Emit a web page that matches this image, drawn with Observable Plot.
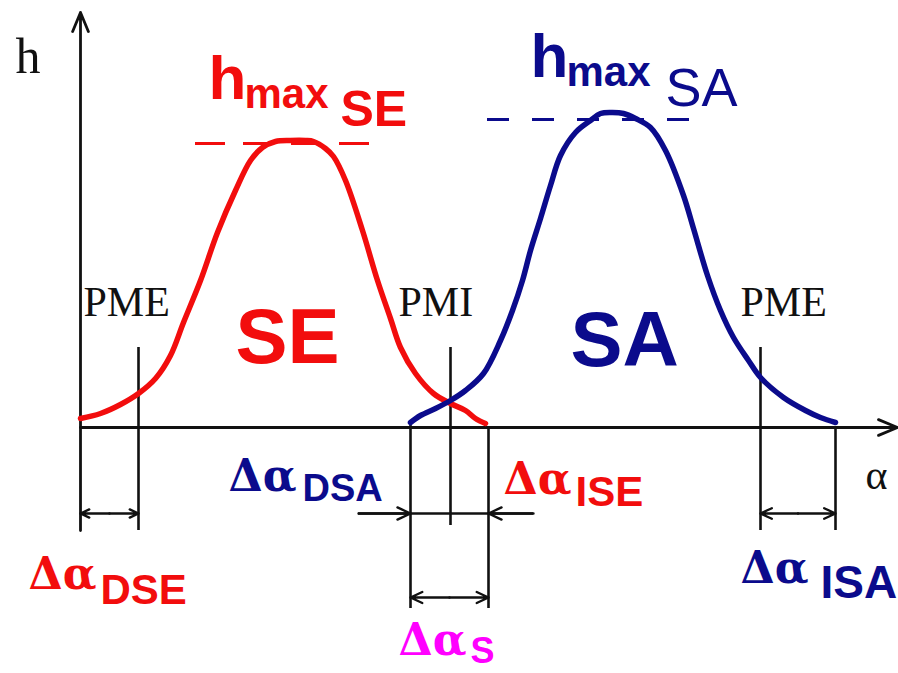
<!DOCTYPE html>
<html>
<head>
<meta charset="utf-8">
<script src="https://cdn.jsdelivr.net/npm/d3@7"></script>
<script src="https://cdn.jsdelivr.net/npm/@observablehq/plot@0.6"></script>
<style>
  html, body { margin: 0; padding: 0; background: #fff; }
  #chart svg { display: block; }
</style>
</head>
<body>
<div id="chart"></div>
<script>
// Valve lift diagrams: exhaust valve (SE) and intake valve (SA) lift h against crank angle α.
// α is measured from the vertical axis, h from the horizontal axis.

// Exhaust valve (SE) lift curve
const seAlpha = [0, 20, 40, 58, 75, 90, 103, 120, 137, 155, 170, 182, 195, 210, 225, 233, 245, 253, 265, 282, 297, 310, 320, 335, 353, 370, 385, 395, 405];
const seLift  = [9, 14, 23, 34, 49, 72, 105, 147, 195, 237, 267, 280, 286, 287, 287, 286, 279, 271, 247, 197, 147, 109, 80, 54, 34, 24, 17, 9, 4];

// Intake valve (SA) lift curve
const saAlpha = [330, 340, 355, 370, 385, 403, 420, 432, 442, 450, 460, 470, 480, 495, 510, 520, 532, 543, 555, 570, 585, 603, 613, 627, 640, 653, 668, 680, 703, 725, 740, 755];
const saLift  = [5, 12, 19, 27, 37, 54, 87, 117, 147, 177, 209, 242, 272, 295, 307, 314, 315, 314, 309, 300, 277, 232, 199, 152, 117, 90, 67, 50, 30, 17, 10, 5];

// Dead centres and valve timing angles
const deadCentres = ["PME", "PMI", "PME"];
const deadCentreAlpha = [58, 370, 680];
const seOpen = 0, seClose = 408;   // exhaust opens / closes
const saOpen = 330, saClose = 755; // intake opens / closes

// Extent of the axes
const alphaMax = 817, liftTop = 415, extBottom = -103;

const RED = "#f20d0d", BLUE = "#0b0b8c", MAGENTA = "#ff00ff", INK = "#111";
const SERIF = "Liberation Serif, Times New Roman, serif";
const SANS = "Liberation Sans, Arial, sans-serif";
const GREEK = "DejaVu Serif, serif";

const se = seAlpha.map((a, i) => ({a, h: seLift[i]}));
const sa = saAlpha.map((a, i) => ({a, h: saLift[i]}));
const seMax = d3.max(seLift), saMax = d3.max(saLift);

function label(t, a, h, opts) {
  return Plot.text([{t, a, h}], {x: "a", y: "h", text: "t", textAnchor: "start", lineAnchor: "bottom", ...opts});
}
function vline(a, h1, h2, opts = {}) {
  return Plot.ruleX([a], {y1: h1, y2: h2, stroke: INK, strokeWidth: 2.6, ...opts});
}
function arrow(a1, a2, h, opts = {}) {
  return Plot.arrow([{a1, a2, h}], {x1: "a1", x2: "a2", y1: "h", y2: "h", stroke: INK, strokeWidth: 2.4, headLength: 9, headAngle: 50, ...opts});
}
// dimension line with arrowheads at both ends
function span(a1, a2, h) {
  const m = (a1 + a2) / 2;
  return [arrow(m, a1, h), arrow(m, a2, h)];
}

const dimLevel = -86, overlapLevel = -170;

const chart = Plot.plot({
  width: 898,
  height: 673,
  margin: 0,
  x: {domain: [-80, 818], axis: null},
  y: {domain: [-246, 427], axis: null},
  style: {background: "#fff", overflow: "visible"},
  marks: [
    // axes
    Plot.arrow([{x1: 0, y1: extBottom, x2: 0, y2: liftTop}], {x1: "x1", y1: "y1", x2: "x2", y2: "y2", stroke: INK, strokeWidth: 2.8, headLength: 11, headAngle: 45}),
    Plot.arrow([{x1: 0, y1: 0, x2: alphaMax, y2: 0}], {x1: "x1", y1: "y1", x2: "x2", y2: "y2", stroke: INK, strokeWidth: 2.8, headLength: 11, headAngle: 45}),

    // dead centre markers
    vline(deadCentreAlpha[0], extBottom, 80),
    vline(deadCentreAlpha[1], -98, 80),
    vline(deadCentreAlpha[2], extBottom, 80),

    // valve opening / closing extension lines
    vline(saOpen, 4, -181),
    vline(seClose, 0, -181),
    vline(saClose, 0, extBottom),

    // dimension lines
    ...span(seOpen, deadCentreAlpha[0], dimLevel),
    Plot.ruleY([dimLevel], {x1: saOpen - 52, x2: seClose + 45, stroke: INK, strokeWidth: 2.4}),
    arrow(saOpen - 52, saOpen, dimLevel),
    arrow(seClose + 45, seClose, dimLevel),
    ...span(saOpen, seClose, overlapLevel),
    ...span(deadCentreAlpha[2], saClose, dimLevel),

    // maximum lift reference lines
    Plot.ruleY([seMax], {x1: 115, x2: 289, stroke: RED, strokeWidth: 2.8, strokeDasharray: "30,18", dy: 3}),
    Plot.ruleY([saMax], {x1: 407, x2: 612, stroke: BLUE, strokeWidth: 2.8, strokeDasharray: "22,23", dy: 7}),

    // lift curves
    Plot.line(se, {x: "a", y: "h", stroke: RED, strokeWidth: 5.5, curve: "catmull-rom"}),
    Plot.line(sa, {x: "a", y: "h", stroke: BLUE, strokeWidth: 5.5, curve: "catmull-rom"}),

    // axis names
    label("h", -65, 355, {fontFamily: SERIF, fontSize: 50, fill: INK}),
    label("α", 785, -61, {fontFamily: SERIF, fontSize: 42, fill: INK}),

    // dead centre names
    label(deadCentres[0], 3, 112, {fontFamily: SERIF, fontSize: 42, letterSpacing: 5, fill: INK}),
    label(deadCentres[1], 318, 112, {fontFamily: SERIF, fontSize: 42, letterSpacing: 5, fill: INK}),
    label(deadCentres[2], 660, 112, {fontFamily: SERIF, fontSize: 42, letterSpacing: 5, fill: INK}),

    // valve names
    label("SE", 155, 65, {fontFamily: SANS, fontWeight: "bold", fontSize: 78, letterSpacing: -6, fill: RED}),
    label("SA", 490, 62, {fontFamily: SANS, fontWeight: "bold", fontSize: 78, letterSpacing: -6, fill: BLUE}),

    // maximum lift labels
    label("h", 128, 329, {fontFamily: SANS, fontWeight: "bold", fontSize: 62, fill: RED}),
    label("max", 164, 320, {fontFamily: SANS, fontWeight: "bold", fontSize: 42, fill: RED}),
    label("SE", 260, 302, {fontFamily: SANS, fontWeight: "bold", fontSize: 50, fill: RED}),
    label("h", 450, 351, {fontFamily: SANS, fontWeight: "bold", fontSize: 62, fill: BLUE}),
    label("max", 486, 342, {fontFamily: SANS, fontWeight: "bold", fontSize: 42, fill: BLUE}),
    label("SA", 585, 322, {fontFamily: SANS, fontSize: 54, letterSpacing: 8, fill: BLUE}),

    // timing angle labels
    label("Δα", -52, -161, {fontFamily: GREEK, fontWeight: "bold", fontSize: 44, fill: RED}),
    label("DSE", 20, -176, {fontFamily: SANS, fontWeight: "bold", fontSize: 42, letterSpacing: 2, fill: RED}),
    label("Δα", 148, -63, {fontFamily: GREEK, fontWeight: "bold", fontSize: 44, fill: BLUE}),
    label("DSA", 222, -73, {fontFamily: SANS, fontWeight: "bold", fontSize: 38, letterSpacing: 3, fill: BLUE}),
    label("Δα", 423, -66, {fontFamily: GREEK, fontWeight: "bold", fontSize: 44, fill: RED}),
    label("ISE", 495, -78, {fontFamily: SANS, fontWeight: "bold", fontSize: 42, letterSpacing: 3, fill: RED}),
    label("Δα", 660, -155, {fontFamily: GREEK, fontWeight: "bold", fontSize: 44, fill: BLUE}),
    label("ISA", 740, -170, {fontFamily: SANS, fontWeight: "bold", fontSize: 46, letterSpacing: 2, fill: BLUE}),
    label("Δα", 318, -227, {fontFamily: GREEK, fontWeight: "bold", fontSize: 44, fill: MAGENTA}),
    label("S", 390, -235, {fontFamily: SANS, fontWeight: "bold", fontSize: 36, fill: MAGENTA})
  ]
});

document.getElementById("chart").append(chart);
</script>
</body>
</html>
